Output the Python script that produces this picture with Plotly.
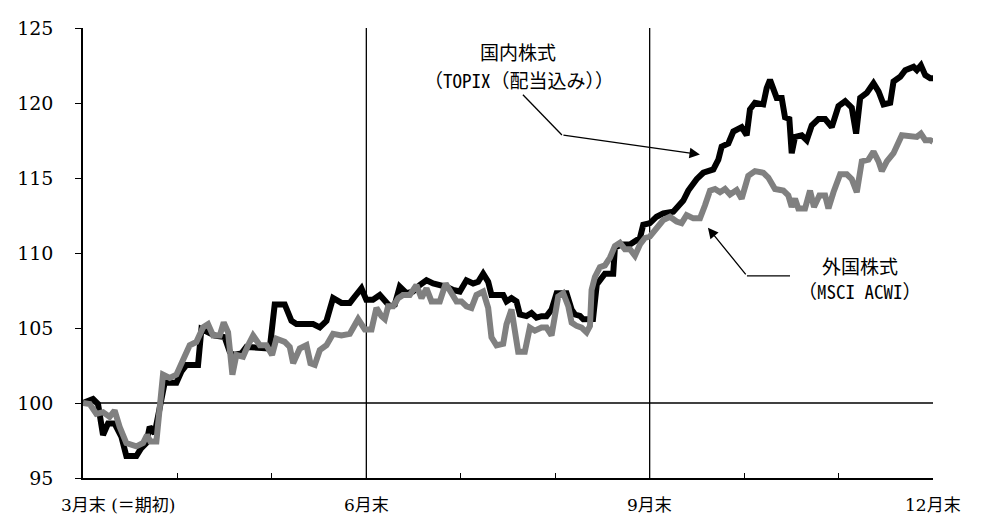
import plotly.graph_objects as go

# months elapsed since end of March (0 = 3月末, 9 = 12月末)
topix_t = [0, 0.106, 0.159, 0.212, 0.265, 0.335, 0.406, 0.459, 0.565, 0.618, 0.671, 0.706, 0.759, 0.812,
           0.865, 0.989, 1.042, 1.095, 1.218, 1.254, 1.324, 1.395, 1.50, 1.554, 1.589, 1.677, 1.73, 1.872,
           1.977, 2.03, 2.136, 2.207, 2.26, 2.436, 2.507, 2.578, 2.648, 2.736, 2.825, 2.878, 2.948, 3.0,
           3.07, 3.143, 3.196, 3.248, 3.301, 3.354, 3.425, 3.495, 3.566, 3.637, 3.707, 3.778, 3.849, 3.92,
           3.99, 4.06, 4.131, 4.184, 4.237, 4.29, 4.325, 4.449, 4.484, 4.537, 4.59, 4.626, 4.696, 4.749,
           4.802, 4.855, 4.908, 4.961, 5.015, 5.12, 5.174, 5.209, 5.262, 5.297, 5.40, 5.44, 5.473, 5.526,
           5.614, 5.632, 5.703, 5.791, 5.844, 5.897, 5.932, 6.003, 6.073, 6.144, 6.25, 6.303, 6.356, 6.409,
           6.497, 6.568, 6.674, 6.727, 6.762, 6.833, 6.886, 6.974, 7.027, 7.062, 7.115, 7.203, 7.239, 7.274,
           7.309, 7.345, 7.398, 7.433, 7.479, 7.504, 7.539, 7.61, 7.663, 7.716, 7.787, 7.858, 7.928, 7.999,
           8.07, 8.14, 8.186, 8.229, 8.299, 8.37, 8.423, 8.476, 8.547, 8.582, 8.653, 8.706, 8.794, 8.829,
           8.872, 8.918, 8.971, 9.0]
topix_v = [100.0, 100.26, 99.93, 97.87, 98.63, 98.63, 97.76, 96.46, 96.46, 97.0, 97.33, 98.41, 97.98, 99.93,
           101.35, 101.35, 102.1, 102.54, 102.54, 104.93, 104.72, 104.5, 104.39, 103.41, 103.2, 103.3, 103.74, 103.63,
           103.63, 106.57, 106.57, 105.48, 105.26, 105.26, 105.04, 105.48, 107.0, 106.67, 106.67, 107.1, 107.65, 106.88,
           106.88, 107.2, 106.88, 106.45, 106.56, 107.75, 107.32, 107.43, 107.86, 108.18, 107.97, 107.86, 107.75, 107.53,
           107.43, 108.18, 107.97, 108.08, 108.62, 108.08, 107.2, 107.2, 106.77, 106.99, 106.77, 105.9, 105.79, 106.0,
           105.69, 105.79, 105.79, 106.23, 107.32, 107.32, 106.23, 105.9, 105.8, 105.58, 105.6, 107.9, 108.18, 108.62,
           108.62, 110.36, 110.57, 110.57, 110.79, 111.0, 111.88, 111.99, 112.42, 112.64, 112.75, 113.07, 113.5, 114.16,
           114.92, 115.35, 115.57, 116.22, 117.09, 117.3, 118.1, 118.39, 117.85, 119.58, 120.02, 119.91, 120.99, 121.54,
           120.99, 120.34, 120.34, 119.04, 118.93, 116.65, 117.74, 117.85, 117.52, 118.5, 118.93, 118.93, 118.39, 119.8,
           120.12, 119.69, 117.96, 120.34, 120.67, 121.32, 120.78, 119.91, 120.02, 121.43, 121.75, 122.19, 122.41, 122.19,
           122.51, 121.86, 121.65, 121.65]

acwi_t = [0, 0.071, 0.141, 0.212, 0.282, 0.335, 0.388, 0.459, 0.565, 0.636, 0.678, 0.713, 0.777, 0.812,
          0.847, 0.918, 0.989, 1.059, 1.13, 1.2, 1.271, 1.324, 1.377, 1.448, 1.49, 1.536, 1.561, 1.582,
          1.624, 1.695, 1.748, 1.801, 1.872, 1.942, 2.002, 2.048, 2.136, 2.189, 2.225, 2.295, 2.366, 2.408,
          2.454, 2.507, 2.578, 2.648, 2.736, 2.825, 2.913, 2.984, 3.055, 3.107, 3.16, 3.196, 3.231, 3.284,
          3.337, 3.39, 3.46, 3.53, 3.584, 3.637, 3.69, 3.778, 3.84, 3.9, 3.955, 4.007, 4.06, 4.113,
          4.166, 4.237, 4.29, 4.325, 4.378, 4.449, 4.484, 4.537, 4.572, 4.608, 4.678, 4.731, 4.784, 4.855,
          4.908, 4.961, 5.032, 5.085, 5.138, 5.174, 5.226, 5.279, 5.332, 5.368, 5.385, 5.42, 5.473, 5.526,
          5.58, 5.632, 5.685, 5.738, 5.791, 5.844, 5.897, 5.95, 6.003, 6.073, 6.144, 6.215, 6.285, 6.338,
          6.391, 6.462, 6.533, 6.586, 6.639, 6.692, 6.745, 6.798, 6.851, 6.921, 6.974, 7.044, 7.115, 7.203,
          7.256, 7.327, 7.415, 7.468, 7.504, 7.539, 7.574, 7.645, 7.698, 7.74, 7.797, 7.858, 7.893, 7.946,
          8.017, 8.087, 8.14, 8.193, 8.246, 8.317, 8.37, 8.423, 8.458, 8.511, 8.582, 8.67, 8.759, 8.829,
          8.872, 8.918, 8.971, 9.0]
acwi_v = [100.0, 99.93, 99.28, 99.39, 99.07, 99.5, 98.41, 97.33, 97.11, 97.33, 97.87, 97.43, 97.43, 99.93,
          101.89, 101.67, 101.89, 102.87, 103.85, 104.07, 105.04, 105.26, 104.5, 104.5, 105.37, 104.72, 102.76, 101.89,
          103.2, 103.09, 103.85, 104.5, 103.85, 103.85, 103.2, 104.28, 104.07, 103.74, 102.65, 103.63, 103.85, 102.65,
          102.54, 103.52, 103.85, 104.61, 104.5, 104.61, 105.59, 104.9, 104.9, 106.34, 105.8, 105.6, 106.45, 106.45,
          106.99, 107.2, 107.2, 107.86, 106.99, 107.64, 106.77, 106.77, 107.97, 107.32, 106.77, 106.77, 106.45, 106.34,
          107.2, 107.43, 106.34, 104.38, 103.84, 103.95, 105.25, 106.23, 104.82, 103.41, 103.41, 105.03, 104.82, 105.03,
          105.03, 104.5, 107.1, 107.32, 106.45, 105.36, 105.14, 105.03, 104.71, 105.14, 107.54, 108.4, 109.06, 109.17,
          109.7, 110.47, 110.68, 110.25, 110.25, 109.82, 110.57, 111.0, 111.1, 111.66, 112.2, 112.42, 112.1, 111.99,
          112.53, 112.31, 112.31, 113.18, 114.16, 114.27, 114.05, 114.27, 113.9, 114.2, 113.62, 115.14, 115.46, 115.35,
          115.03, 114.27, 114.16, 113.84, 113.07, 113.62, 112.97, 112.97, 114.16, 113.07, 113.84, 113.84, 112.97, 114.05,
          115.25, 115.25, 114.92, 114.05, 116.11, 116.22, 116.76, 116.11, 115.46, 116.11, 116.65, 117.85, 117.74, 117.74,
          117.96, 117.52, 117.52, 117.41]

y_ticks = [95, 100, 105, 110, 115, 120, 125]
x_labels = {0: "3月末 (＝期初)", 3: "6月末", 6: "9月末", 9: "12月末"}
month_ticks = list(range(10))

fig = go.Figure()
fig.add_trace(go.Scatter(x=topix_t, y=topix_v, mode="lines", name="国内株式",
                         line=dict(color="#000000", width=6)))
fig.add_trace(go.Scatter(x=acwi_t, y=acwi_v, mode="lines", name="外国株式",
                         line=dict(color="#808080", width=6)))

# reference lines
for m in (3, 6):
    fig.add_shape(type="line", xref="x", yref="paper", x0=m, x1=m, y0=0, y1=1,
                  line=dict(color="#000000", width=1.3), layer="below")
fig.add_shape(type="line", xref="paper", yref="y", x0=0, x1=1, y0=100, y1=100,
              line=dict(color="#000000", width=1.3), layer="below")

serif = "DejaVu Serif, Liberation Serif, Noto Sans CJK JP"
gothic = "Noto Sans Mono CJK JP, Noto Sans CJK JP"

# x labels
for m, txt in x_labels.items():
    if m == 0:
        fig.add_annotation(x=m, y=0, xref="x", yref="paper", text=txt, showarrow=False,
                           xanchor="left", yanchor="middle", xshift=-24, yshift=-27,
                           font=dict(family=serif, size=17, color="#000"))
    else:
        fig.add_annotation(x=m, y=0, xref="x", yref="paper", text=txt, showarrow=False,
                           xanchor="center", yanchor="middle", yshift=-27,
                           font=dict(family=serif, size=17, color="#000"))

# series labels
fig.add_annotation(x=4.605, y=123.42, text="国内株式", showarrow=False,
                   font=dict(family=gothic, size=19, color="#000"))
fig.add_annotation(x=4.616, y=121.58, text="（TOPIX（配当込み））", showarrow=False,
                   font=dict(family=gothic, size=19, color="#000"))
fig.add_annotation(x=8.228, y=109.14, text="外国株式", showarrow=False,
                   font=dict(family=gothic, size=19, color="#000"))
fig.add_annotation(x=8.228, y=107.52, text="（MSCI ACWI）", showarrow=False,
                   font=dict(family=gothic, size=19, color="#000"))

# leader lines with arrows
fig.add_shape(type="line", xref="x", yref="y", x0=4.658, y0=120.55, x1=5.071, y1=117.87,
              line=dict(color="#000", width=1.3))
fig.add_annotation(x=6.532, y=116.57, ax=5.071, ay=117.87, axref="x", ayref="y", xref="x", yref="y",
                   text="", showarrow=True, arrowhead=2, arrowsize=1.6, arrowwidth=1.3, arrowcolor="#000")
fig.add_shape(type="line", xref="x", yref="y", x0=7.486, y0=108.48, x1=7.03, y1=108.48,
              line=dict(color="#000", width=1.3))
fig.add_annotation(x=6.617, y=111.68, ax=7.03, ay=108.48, axref="x", ayref="y", xref="x", yref="y",
                   text="", showarrow=True, arrowhead=2, arrowsize=1.6, arrowwidth=1.3, arrowcolor="#000")

# the page places the figure 8px in from the top-left corner, so size it accordingly
fig.update_layout(
    width=978, height=509,
    margin=dict(l=75, r=53, t=9, b=39),
    paper_bgcolor="white", plot_bgcolor="white",
    showlegend=False,
    xaxis=dict(range=[0, 9], tickvals=month_ticks, showticklabels=False, ticks="inside", ticklen=5,
               tickcolor="#000", tickwidth=1.3, showgrid=False, zeroline=False,
               showline=True, linecolor="#000", linewidth=1.5),
    yaxis=dict(range=[95, 125], tickvals=y_ticks, ticks="outside", ticklen=6, tickcolor="#000",
               tickwidth=1.3, showgrid=False, zeroline=False, showline=True, linecolor="#000",
               linewidth=1.5, ticklabelstandoff=18, ticklabeloverflow="allow",
               tickfont=dict(family=serif, size=19, color="#000")),
)

fig.write_html("out.html")
